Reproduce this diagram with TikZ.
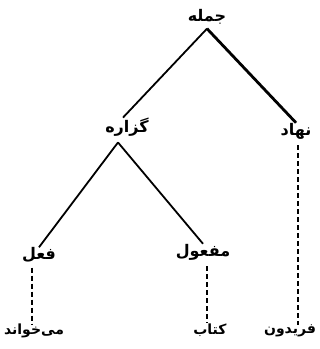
\documentclass[tikz,border=0pt]{standalone}
\usepackage{fontspec}
\newfontfamily\arabicfont[Script=Arabic]{DejaVu Sans}
\TeXXeTstate=1
\usepackage{tikz}
\usetikzlibrary{calc}
\tikzset{
  lbl/.style={inner sep=0pt, font=\arabicfont\bfseries\fontsize{16}{18}\selectfont},
  leaf/.style={lbl, font=\arabicfont\bfseries\fontsize{14}{16}\selectfont},
  branch/.style={line width=1.8pt},
  mainbranch/.style={line width=2.8pt},
  dashline/.style={line width=2pt, dash pattern=on 5pt off 3pt}
}
\newcommand{\fa}[1]{\beginR #1\endR}

\begin{document}
\begin{tikzpicture}[x=1pt,y=-1pt]
  \useasboundingbox (0,0) rectangle (320,349);
  \node[lbl] (jomle) at (207,17) {\fa{جمله}};
  \node[lbl] (gozare) at (127,127) {\fa{گزاره}};
  \node[lbl] (nahad) at (296,131) {\fa{نهاد}};
  \node[lbl] (feel) at (39,255) {\fa{فعل}};
  \node[lbl] (mafool) at (203,252) {\fa{مفعول}};
  \node[leaf] (mikhanad) at (34,331) {\fa{می‌خواند}};
  \node[leaf] (ketab) at (210,330) {\fa{کتاب}};
  \node[leaf] (fereydun) at (290,331) {\fa{فریدون}};
  \coordinate (top) at ($(jomle.south)+(0,4)$);
  \coordinate (mid) at ($(gozare.south)+(-9,6)$);
  \draw[branch] (top) -- ($(gozare.north)+(-4,0)$);
  \draw[mainbranch] (top) -- (nahad.north);
  \draw[branch] (mid) -- (feel.north);
  \draw[branch] (mid) -- (mafool.north);
  \draw[dashline] ($(feel.south)+(-7,5)$) -- (mikhanad.north -| {$(feel.south)+(-7,0)$});
  \draw[dashline] ($(mafool.south)+(4,6)$) -- (ketab.north -| {$(mafool.south)+(4,0)$});
  \draw[dashline] ($(nahad.south)+(2,6)$) -- (fereydun.north -| {$(nahad.south)+(2,0)$});
\end{tikzpicture}
\end{document}
